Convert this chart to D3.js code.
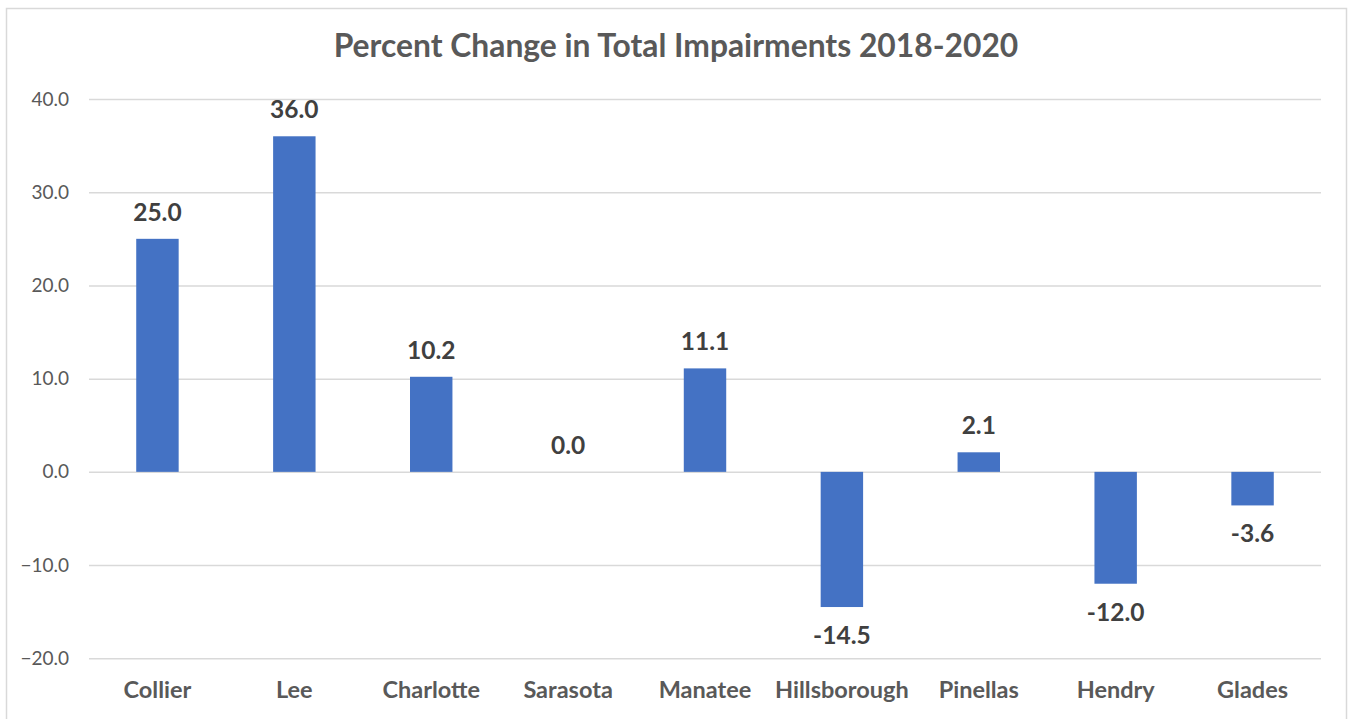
<!DOCTYPE html>
<html lang="en">
<head>
    <meta charset="utf-8">
    <title>Percent Change in Total Impairments</title>
    <script src="https://d3js.org/d3.v7.min.js"></script>
    <style>
        body { margin: 0; background: #fff; }
        svg text { font-family: Lato, "Open Sans", sans-serif; }
    </style>
</head>
<body>
    <svg id="chart" width="1350" height="719"></svg>
    <script type="text/javascript">
        // data
        const counties = ["Collier", "Lee", "Charlotte", "Sarasota", "Manatee", "Hillsborough", "Pinellas", "Hendry", "Glades"];
        const pctChange = [25.0, 36.0, 10.2, 0.0, 11.1, -14.5, 2.1, -12.0, -3.6];
        const yTicks = [-20, -10, 0, 10, 20, 30, 40];
        const chartTitle = "Percent Change in Total Impairments 2018-2020";

        const data = counties.map((c, i) => ({county: c, value: pctChange[i]}));

        var svg = d3.select("#chart");

        // chart area border (bottom runs off the picture)
        svg.append("rect")
            .attr("x", 6.5).attr("y", 8.5)
            .attr("width", 1340).attr("height", 730)
            .attr("fill", "none")
            .attr("stroke", "#d9d9d9")
            .attr("stroke-width", 1.5);

        let x = d3.scaleBand()
            .domain(counties)
            .range([89, 1321])
            .paddingInner(0.69)
            .paddingOuter(0.345);

        let y = d3.scaleLinear()
            .domain([-20, 40])
            .range([658.3, 99]);

        // gridlines + y labels
        let yAxis = d3.axisLeft(y)
            .tickValues(yTicks)
            .tickSize(-(1321 - 89))
            .tickPadding(20)
            .tickFormat(d3.format(".1f"));

        let gy = svg.append("g")
            .attr("transform", "translate(89,0)")
            .call(yAxis);
        gy.select(".domain").remove();
        gy.selectAll(".tick line").attr("stroke", "#d9d9d9").attr("stroke-width", 1.5);
        gy.selectAll(".tick text")
            .attr("fill", "#595959")
            .style("font-size", "19px");

        // bars
        svg.append("g").selectAll("rect.bar").data(data).enter()
            .append("rect")
            .attr("class", "bar")
            .attr("x", d => x(d.county))
            .attr("width", x.bandwidth())
            .attr("y", d => y(Math.max(0, d.value)))
            .attr("height", d => Math.abs(y(d.value) - y(0)))
            .attr("fill", "#4472c4");

        // data labels
        svg.append("g").selectAll("text.lbl").data(data).enter()
            .append("text")
            .attr("class", "lbl")
            .attr("x", d => x(d.county) + x.bandwidth() / 2)
            .attr("y", d => d.value >= 0 ? y(d.value) - 18 : y(d.value) + 37)
            .attr("text-anchor", "middle")
            .attr("fill", "#404040")
            .style("font-size", "24.5px")
            .style("font-weight", "bold")
            .text(d => d3.format(".1f")(d.value).replace("−", "-"));

        // category labels
        svg.append("g").selectAll("text.cat").data(counties).enter()
            .append("text")
            .attr("class", "cat")
            .attr("x", d => x(d) + x.bandwidth() / 2)
            .attr("y", 698)
            .attr("text-anchor", "middle")
            .attr("fill", "#595959")
            .style("font-size", "23.5px")
            .style("font-weight", "bold")
            .text(d => d);

        // title
        svg.append("text")
            .attr("x", 676)
            .attr("y", 57)
            .attr("text-anchor", "middle")
            .attr("fill", "#595959")
            .style("font-size", "31.8px")
            .style("font-weight", "bold")
            .text(chartTitle);
    </script>
</body>
</html>
